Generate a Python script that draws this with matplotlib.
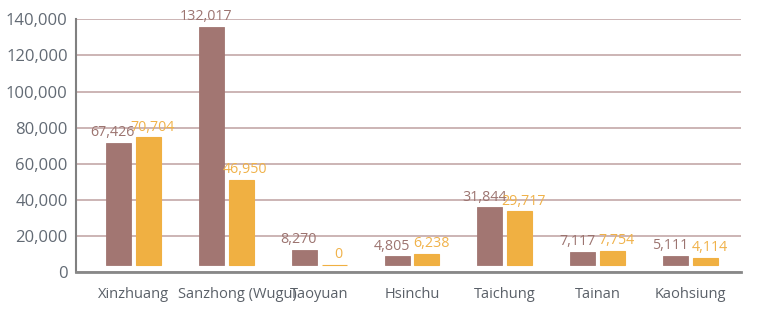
import numpy as np
import matplotlib.pyplot as plt

cities = ["Xinzhuang", "Sanzhong (Wugu)", "Taoyuan", "Hsinchu", "Taichung", "Tainan", "Kaohsiung"]
series_a = [67426, 132017, 8270, 4805, 31844, 7117, 5111]
series_b = [70704, 46950, 0, 6238, 29717, 7754, 4114]
yticks = [0, 20000, 40000, 60000, 80000, 100000, 120000, 140000]

brown = '#a27672'
orange = '#f0b042'
base = 3900  # bars sit slightly above the axis line

plt.rcParams['font.family'] = ['Open Sans', 'DejaVu Sans']

fig = plt.figure(figsize=(7.65, 3.10), dpi=100)
ax = fig.add_axes([76/765, 1 - 272/310, 665/765, 252.7/310])

x = np.arange(len(cities))
w = 0.269
off = 0.161

bars_a = ax.bar(x - off, series_a, w, bottom=base, color=brown,
                edgecolor=brown, linewidth=0.6, zorder=3)
bars_b = ax.bar(x + off, series_b, w, bottom=base, color=orange,
                edgecolor=orange, linewidth=0.8, zorder=3)

# value labels, nudged apart a little like the original
for rect, v in zip(bars_a, series_a):
    ax.annotate(f"{v:,}", (rect.get_x() + rect.get_width() / 2, rect.get_y() + rect.get_height()),
                xytext=(-4, 2), textcoords='offset points', ha='center', va='bottom',
                fontsize=10.3, color='#9c7470', zorder=4)
for rect, v in zip(bars_b, series_b):
    ax.annotate(f"{v:,}", (rect.get_x() + rect.get_width() / 2, rect.get_y() + rect.get_height()),
                xytext=(3, 2), textcoords='offset points', ha='center', va='bottom',
                fontsize=10.3, color='#f0b24a', zorder=4)

ax.set_xlim(-0.618, 6.543)
ax.set_ylim(0, 140000)
ax.set_yticks(yticks)
ax.set_yticklabels([f"{t:,}" for t in yticks])
ax.set_xticks(x)
ax.set_xticklabels([])

# category labels; the long one sits a bit to the right in the original
xform = ax.get_xaxis_transform()
for i, name in enumerate(cities):
    dx = 8 if i == 1 else 0
    ax.annotate(name, (i, 0), xycoords=xform, xytext=(dx, -11), textcoords='offset points',
                ha='center', va='top', fontsize=10.5, color='#5a6068', annotation_clip=False)

ax.grid(axis='y', color='#bfa0a0', linewidth=1.1, zorder=0)
ax.tick_params(axis='y', length=0, pad=6, labelsize=12, labelcolor='#626a74')
ax.tick_params(axis='x', length=0)

for s in ['top', 'right']:
    ax.spines[s].set_visible(False)
ax.spines['left'].set_color('#808080')
ax.spines['left'].set_linewidth(1.5)
ax.spines['bottom'].set_color('#888888')
ax.spines['bottom'].set_linewidth(2)

fig.savefig('out.png', dpi=100)
